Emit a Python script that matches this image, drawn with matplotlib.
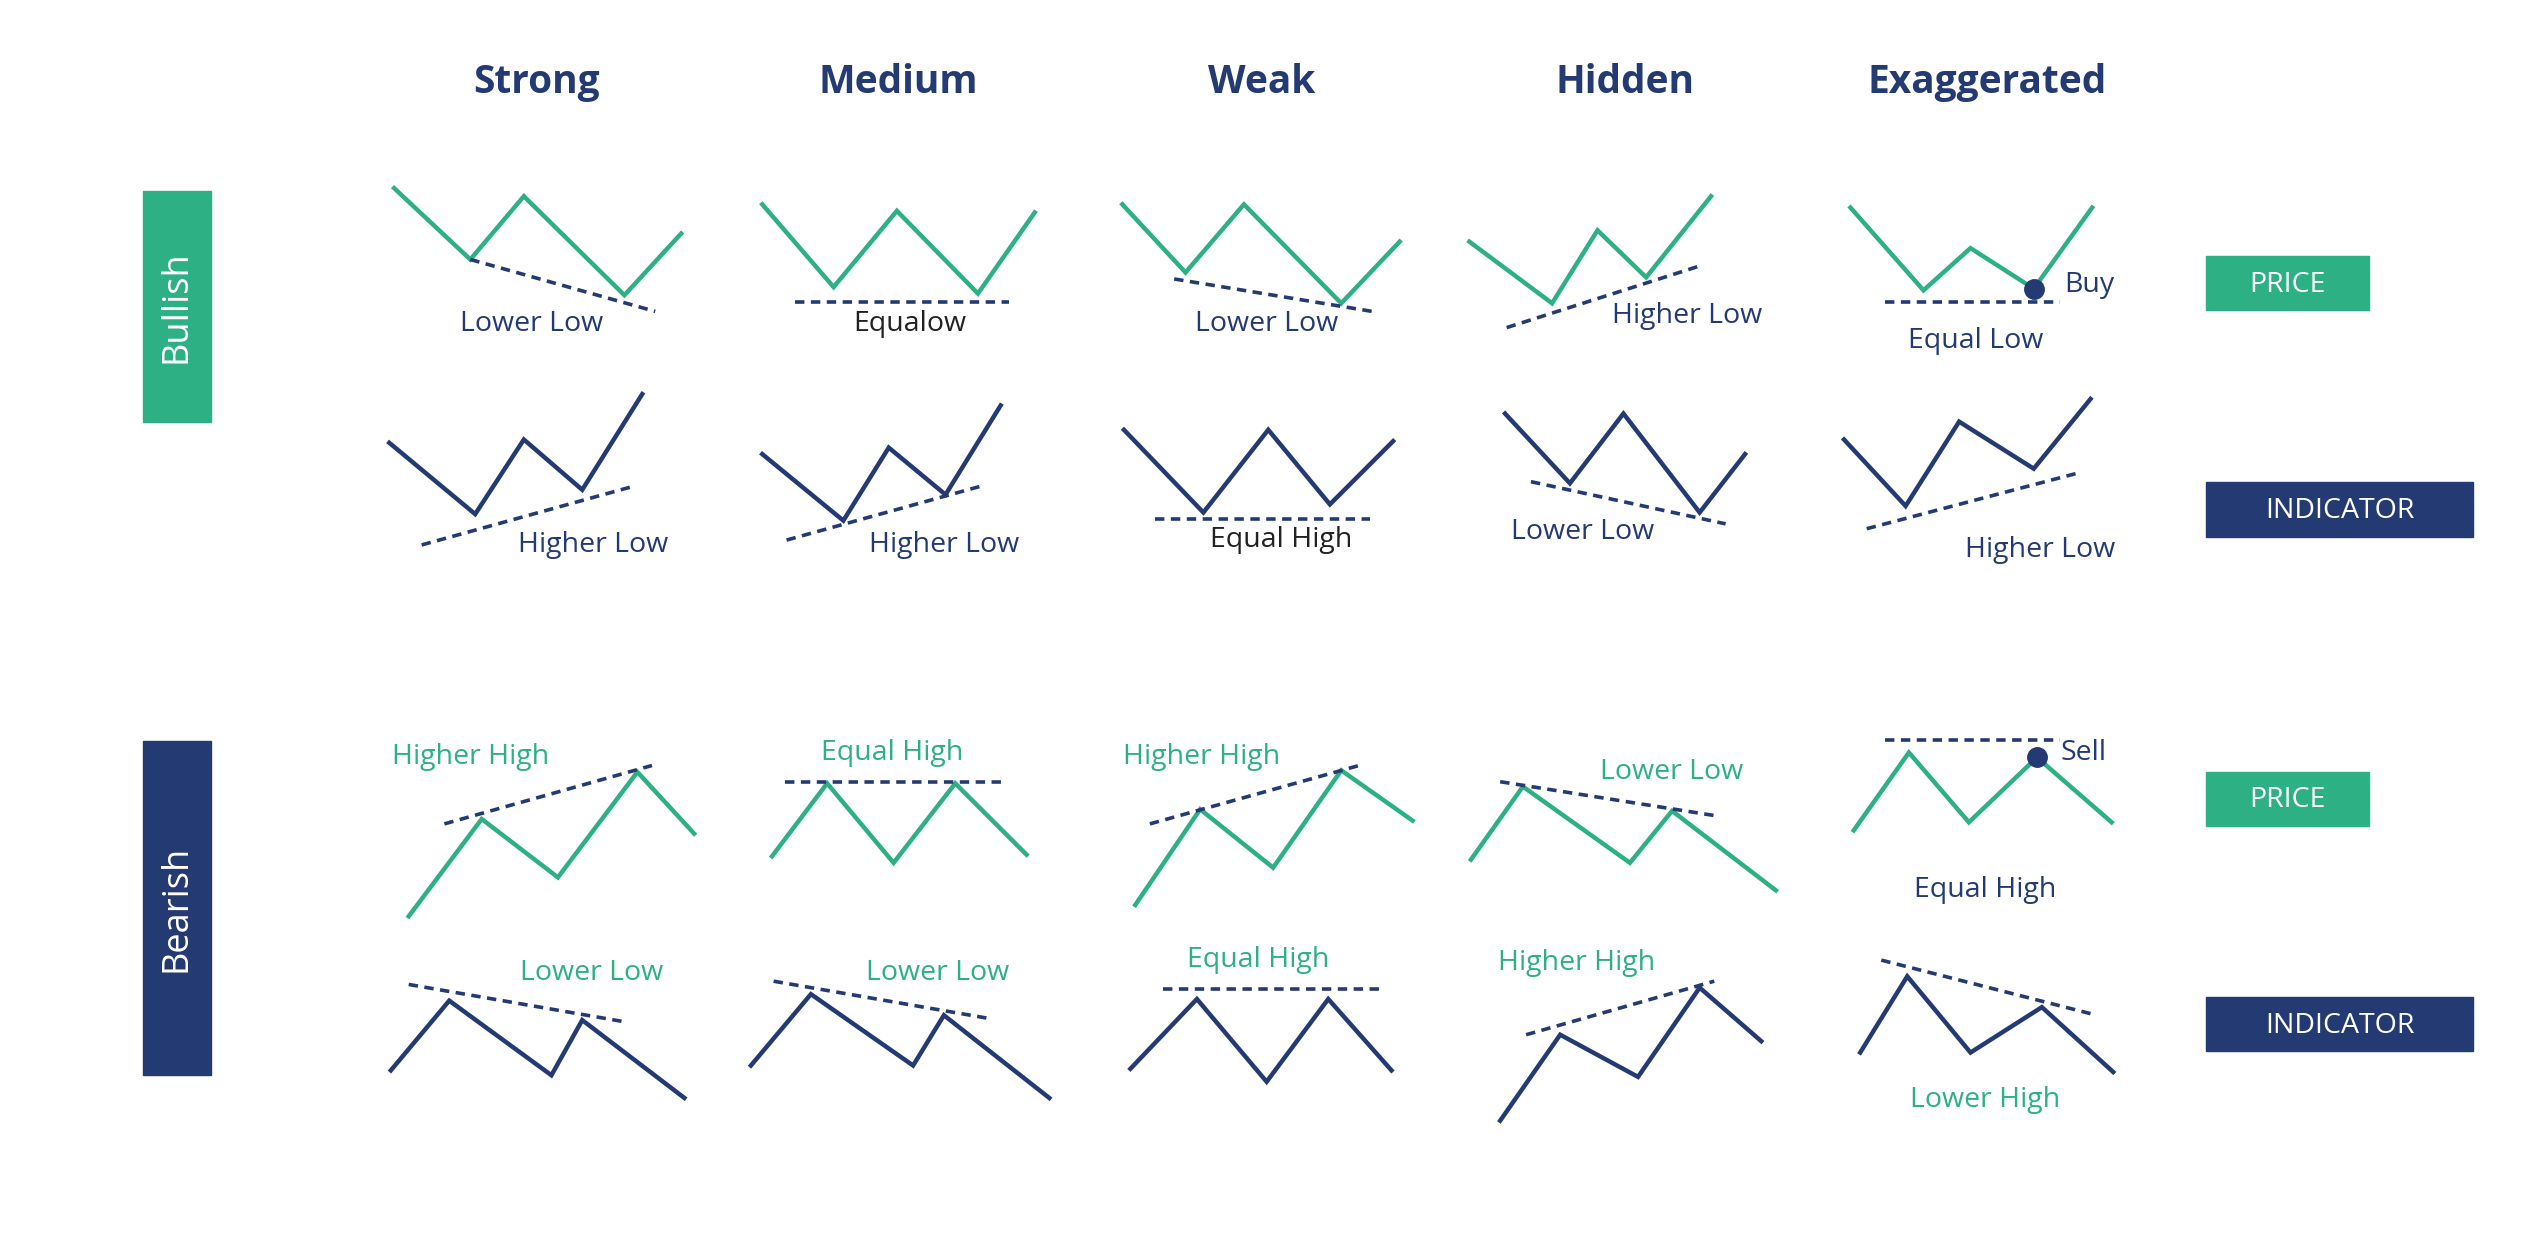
import matplotlib
matplotlib.use("Agg")
import matplotlib.pyplot as plt
import numpy as np

GREEN = "#2db083"
NAVY = "#243a73"
S = 2543 / 1568

headers = ["Strong", "Medium", "Weak", "Hidden", "Exaggerated"]
header_x = [331, 554, 778, 1002, 1225]

bull_price = [
    [(243,116),(290,160),(323,121),(385,182),(420,144)],
    [(470,126),(514,177),(553,130),(603,181),(638,131)],
    [(692,126),(731,168),(767,126),(827,187),(863,149)],
    [(906,149),(957,187),(985,142),(1015,171),(1055,121)],
    [(1141,128),(1186,179),(1215,153),(1254,178),(1290,128)],
]
bull_price_dash = [[(290,160),(404,192)],[(490,186),(622,186)],[(724,172),(846,192)],
                   [(929,202),(1048,164)],[(1162,186),(1270,186)]]
bull_price_lbl = [("Lower Low",328,199,NAVY),("Equalow",561,199,"#222222"),("Lower Low",781,199,NAVY),
                  ("Higher Low",1040,194,NAVY),("Equal Low",1218,209,NAVY)]

bull_ind = [
    [(240,273),(293,317),(323,271),(359,302),(396,243)],
    [(470,280),(520,321),(548,276),(583,305),(617,250)],
    [(693,265),(742,316),(782,265),(820,311),(859,272)],
    [(928,255),(968,298),(1001,255),(1048,316),(1076,280)],
    [(1137,271),(1175,312),(1208,260),(1254,289),(1289,246)],
]
bull_ind_dash = [[(260,336),(390,300)],[(485,333),(604,300)],[(712,320),(845,320)],
                 [(944,297),(1064,323)],[(1151,326),(1280,292)]]
bull_ind_lbl = [("Higher Low",366,335,NAVY),("Higher Low",582,335,NAVY),("Equal High",790,332,"#222222"),
                ("Lower Low",976,327,NAVY),("Higher Low",1258,338,NAVY)]

bear_price = [
    [(252,565),(297,505),(344,541),(393,476),(428,514)],
    [(476,528),(510,483),(551,532),(589,483),(633,527)],
    [(700,558),(740,499),(785,535),(827,475),(871,506)],
    [(907,530),(939,485),(1005,532),(1031,500),(1095,549)],
    [(1143,512),(1177,464),(1214,507),(1256,467),(1302,507)],
]
bear_price_dash = [[(274,508),(402,472)],[(484,482),(617,482)],[(709,508),(838,472)],
                   [(925,482),(1058,503)],[(1162,456),(1270,456)]]
bear_price_lbl = [("Higher High",290,466,GREEN),("Equal High",550,463,GREEN),("Higher High",741,466,GREEN),
                  ("Lower Low",1031,475,GREEN),("Equal High",1224,548,NAVY)]

bear_ind = [
    [(241,660),(277,617),(340,663),(359,629),(422,677)],
    [(463,657),(500,613),(563,657),(582,626),(647,677)],
    [(697,659),(738,616),(781,667),(819,616),(858,660)],
    [(925,691),(962,638),(1010,664),(1048,609),(1086,642)],
    [(1147,649),(1176,602),(1215,649),(1259,621),(1303,661)],
]
bear_ind_dash = [[(252,607),(385,630)],[(477,605),(610,628)],[(717,610),(850,610)],
                 [(941,638),(1057,605)],[(1160,592),(1289,625)]]
bear_ind_lbl = [("Lower Low",365,599,GREEN),("Lower Low",578,599,GREEN),("Equal High",776,591,GREEN),
                ("Higher High",972,593,GREEN),("Lower High",1224,677,GREEN)]

dots = [(1254,178,"Buy",1288,175),(1256,467,"Sell",1285,463)]

side_boxes = [("Bullish",88,118,42,142,GREEN),("Bearish",88,457,42,206,NAVY)]
right_boxes = [("PRICE",1360,158,101,33,GREEN),("INDICATOR",1360,297,165,34,NAVY),
               ("PRICE",1360,476,101,33,GREEN),("INDICATOR",1360,615,165,33,NAVY)]

fig = plt.figure(figsize=(25.43, 12.52), dpi=100)
ax = fig.add_axes([0, 0, 1, 1])
ax.set_xlim(0, 2543); ax.set_ylim(1252, 0); ax.axis("off")
FONT = "Open Sans"

def P(pts):
    a = np.array(pts, float) * S
    return a[:, 0], a[:, 1]

for h, x in zip(headers, header_x):
    ax.text(x*S, 51*S, h, ha="center", va="center", fontsize=28, fontweight="bold", color=NAVY, family=FONT)

groups = [(bull_price, bull_price_dash, bull_price_lbl, GREEN),
          (bull_ind, bull_ind_dash, bull_ind_lbl, NAVY),
          (bear_price, bear_price_dash, bear_price_lbl, GREEN),
          (bear_ind, bear_ind_dash, bear_ind_lbl, NAVY)]
for lines, dashes, lbls, col in groups:
    for ln, ds, lb in zip(lines, dashes, lbls):
        x, y = P(ln); ax.plot(x, y, color=col, lw=3.2, solid_joinstyle="miter")
        x, y = P(ds); ax.plot(x, y, color=NAVY, lw=2.6, ls=(0, (2.6, 1.8)))
        t, lx, ly, c = lb
        ax.text(lx*S, (ly+1)*S, t, ha="center", va="center", fontsize=20.5, color=c, family=FONT)

for dx, dy, t, tx, ty in dots:
    ax.plot(dx*S, dy*S, "o", color=NAVY, ms=14)
    ax.text(tx*S, (ty+1)*S, t, ha="center", va="center", fontsize=20.5, color=NAVY, family=FONT)

for t, x, y, w, h, c in side_boxes:
    ax.add_patch(plt.Rectangle((x*S, y*S), w*S, h*S, color=c))
    ax.text((x+w/2)*S, (y+h/2)*S, t, rotation=90, ha="center", va="center", fontsize=26, color="white", family=FONT)
for t, x, y, w, h, c in right_boxes:
    ax.add_patch(plt.Rectangle((x*S, y*S), w*S, h*S, color=c))
    ax.text((x+w/2)*S, (y+h/2+1)*S, t, ha="center", va="center", fontsize=20.5, color="white", family=FONT)

fig.savefig("out.png", dpi=100, facecolor="white")
